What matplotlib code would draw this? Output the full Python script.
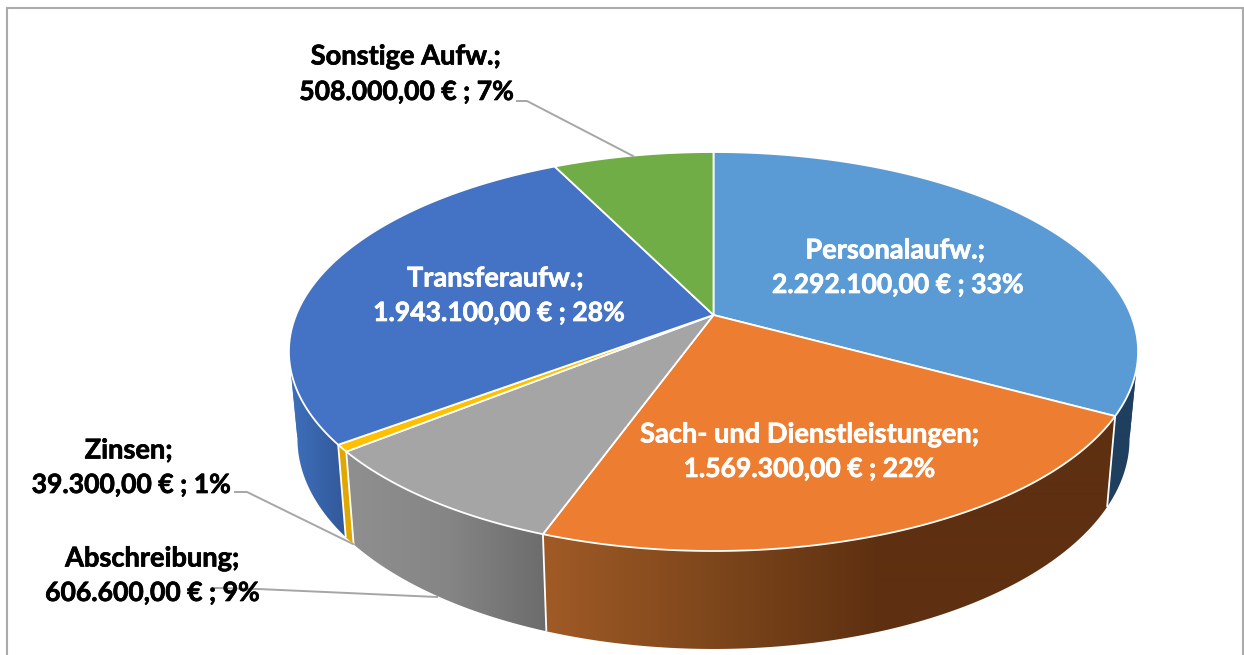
import numpy as np
import matplotlib
matplotlib.use("Agg")
import matplotlib.pyplot as plt
import matplotlib.patheffects as pe
from matplotlib.patches import Polygon, Rectangle
from matplotlib.colors import to_rgb

# ---- data (clockwise from 12 o'clock) ----
categories = ["Personalaufw.", "Sach- und Dienstleistungen", "Abschreibung",
              "Zinsen", "Transferaufw.", "Sonstige Aufw."]
values = [2292100.00, 1569300.00, 606600.00, 39300.00, 1943100.00, 508000.00]
percent_labels = [33, 22, 9, 1, 28, 7]

# ---- styles ----
top_colors = ["#5B9BD5", "#ED7D31", "#A5A5A5", "#FFC000", "#4472C4", "#70AD47"]
wall_stops = [
    [(1100, "#1F3F5F"), (1140, "#1F3F5F")],
    [(546, "#A05A26"), (700, "#80481C"), (880, "#5E3011"), (1110, "#5E3011")],
    [(352, "#8F8F8F"), (450, "#858585"), (546, "#6C6C6C")],
    [(340, "#E0A800"), (356, "#E0A800")],
    [(289, "#3F70BC"), (345, "#32599A")],
    [(560, "#70AD47"), (714, "#70AD47")],
]
# x of first line, y of first line, x of second line, y of second line, colour
label_pos = [(895, 250.5, 897.5, 285, "white"), (809, 434.5, 809, 469, "white"),
             (152, 558.5, 152, 593, "black"), (128.5, 450.5, 131, 485, "black"),
             (495, 278.5, 498.5, 313, "white"), (405.5, 56.5, 406, 92, "black")]
leaders = [((517, 101), (527, 101), (633, 156)),
           ((235, 492), (247, 492), (353, 544)),
           ((215, 588), (258, 589), (437, 597))]

# projective discs: centre x, y of the circle centre, A, B
CX = 713.5
P = 0.183
TOP = (CX, 315.0, 417.4, 192.8)
BOT = (CX, 400.5, 409.0, 203.0)
# angles where each disc is widest: the wall outline is tangent there
TH_R = np.arccos(-P)
TH_L = 2 * np.pi - TH_R


def project(theta, disc):
    cx, cy, a, b = disc
    u, v = np.sin(theta), np.cos(theta)
    d = 1 + P * v
    return cx + a * u / d, cy - b * v / d


def fmt_de(x):
    return f"{x:,.2f}".replace(",", "#").replace(".", ",").replace("#", ".")


W, H = 1244, 655
fig = plt.figure(figsize=(W / 100, H / 100), dpi=100)
ax = fig.add_axes([0, 0, 1, 1])
ax.set_xlim(0, W)
ax.set_ylim(H, 0)
ax.axis("off")

ax.add_patch(Rectangle((6.5, 7.5), 1236.3, H, fc="white", ec="#ABABAB", lw=1.5, zorder=0))

vals = np.array(values, dtype=float)
edges = np.concatenate([[0], np.cumsum(vals) / vals.sum() * 2 * np.pi])

# side walls, split at the widest angles so the outline follows the tangents
for i in range(len(vals)):
    cuts = [edges[i]] + [t for t in (TH_R, TH_L) if edges[i] < t < edges[i + 1]] + [edges[i + 1]]
    xs, cs = zip(*wall_stops[i])
    rgb = np.array([to_rgb(c) for c in cs])
    grid = np.linspace(0, W, 1244)
    img = np.stack([np.interp(grid, xs, rgb[:, k]) for k in range(3)], axis=-1)[None, :, :]
    for a, b in zip(cuts[:-1], cuts[1:]):
        th = np.linspace(a, b, 200)
        xt, yt = project(th, TOP)
        xb, yb = project(th, BOT)
        poly = Polygon(np.column_stack([np.r_[xt, xb[::-1]], np.r_[yt, yb[::-1]]]),
                       closed=True, fc="none", ec="none", zorder=1)
        ax.add_patch(poly)
        im = ax.imshow(img, extent=(0, W, H, 0), aspect="auto", zorder=1,
                       interpolation="bilinear")
        im.set_clip_path(poly)

# visible vertical separators
for k in [1, 2, 3, 4]:
    xt, yt = project(edges[k], TOP)
    xb, yb = project(edges[k], BOT)
    ax.plot([xt, xb], [yt, yb], color="white", lw=1.3, zorder=2, solid_capstyle="butt")

# top faces
cx0, cy0 = TOP[0], TOP[1]
for i in range(len(vals)):
    th = np.linspace(edges[i], edges[i + 1], 200)
    xt, yt = project(th, TOP)
    ax.add_patch(Polygon(np.column_stack([np.r_[cx0, xt], np.r_[cy0, yt]]), closed=True,
                         fc=top_colors[i], ec="white", lw=1.3, joinstyle="round", zorder=3))

# leader lines
for pts in leaders:
    ax.plot(*zip(*pts), color="#A6A6A6", lw=1.4, zorder=4)

# labels
for name, v, pct, (x1, y1, x2, y2, col) in zip(categories, values, percent_labels, label_pos):
    effect = [pe.withStroke(linewidth=0.5, foreground=col)]
    ax.text(x1, y1, f"{name};", ha="center", va="center", fontfamily="Lato",
            fontweight="bold", fontsize=19.6, color=col, zorder=5, path_effects=effect)
    ax.text(x2, y2, f"{fmt_de(v)} € ; {pct}%", ha="center", va="center", fontfamily="Lato",
            fontweight="bold", fontsize=19.1, color=col, zorder=5, path_effects=effect)

fig.savefig("out.png", dpi=100)
